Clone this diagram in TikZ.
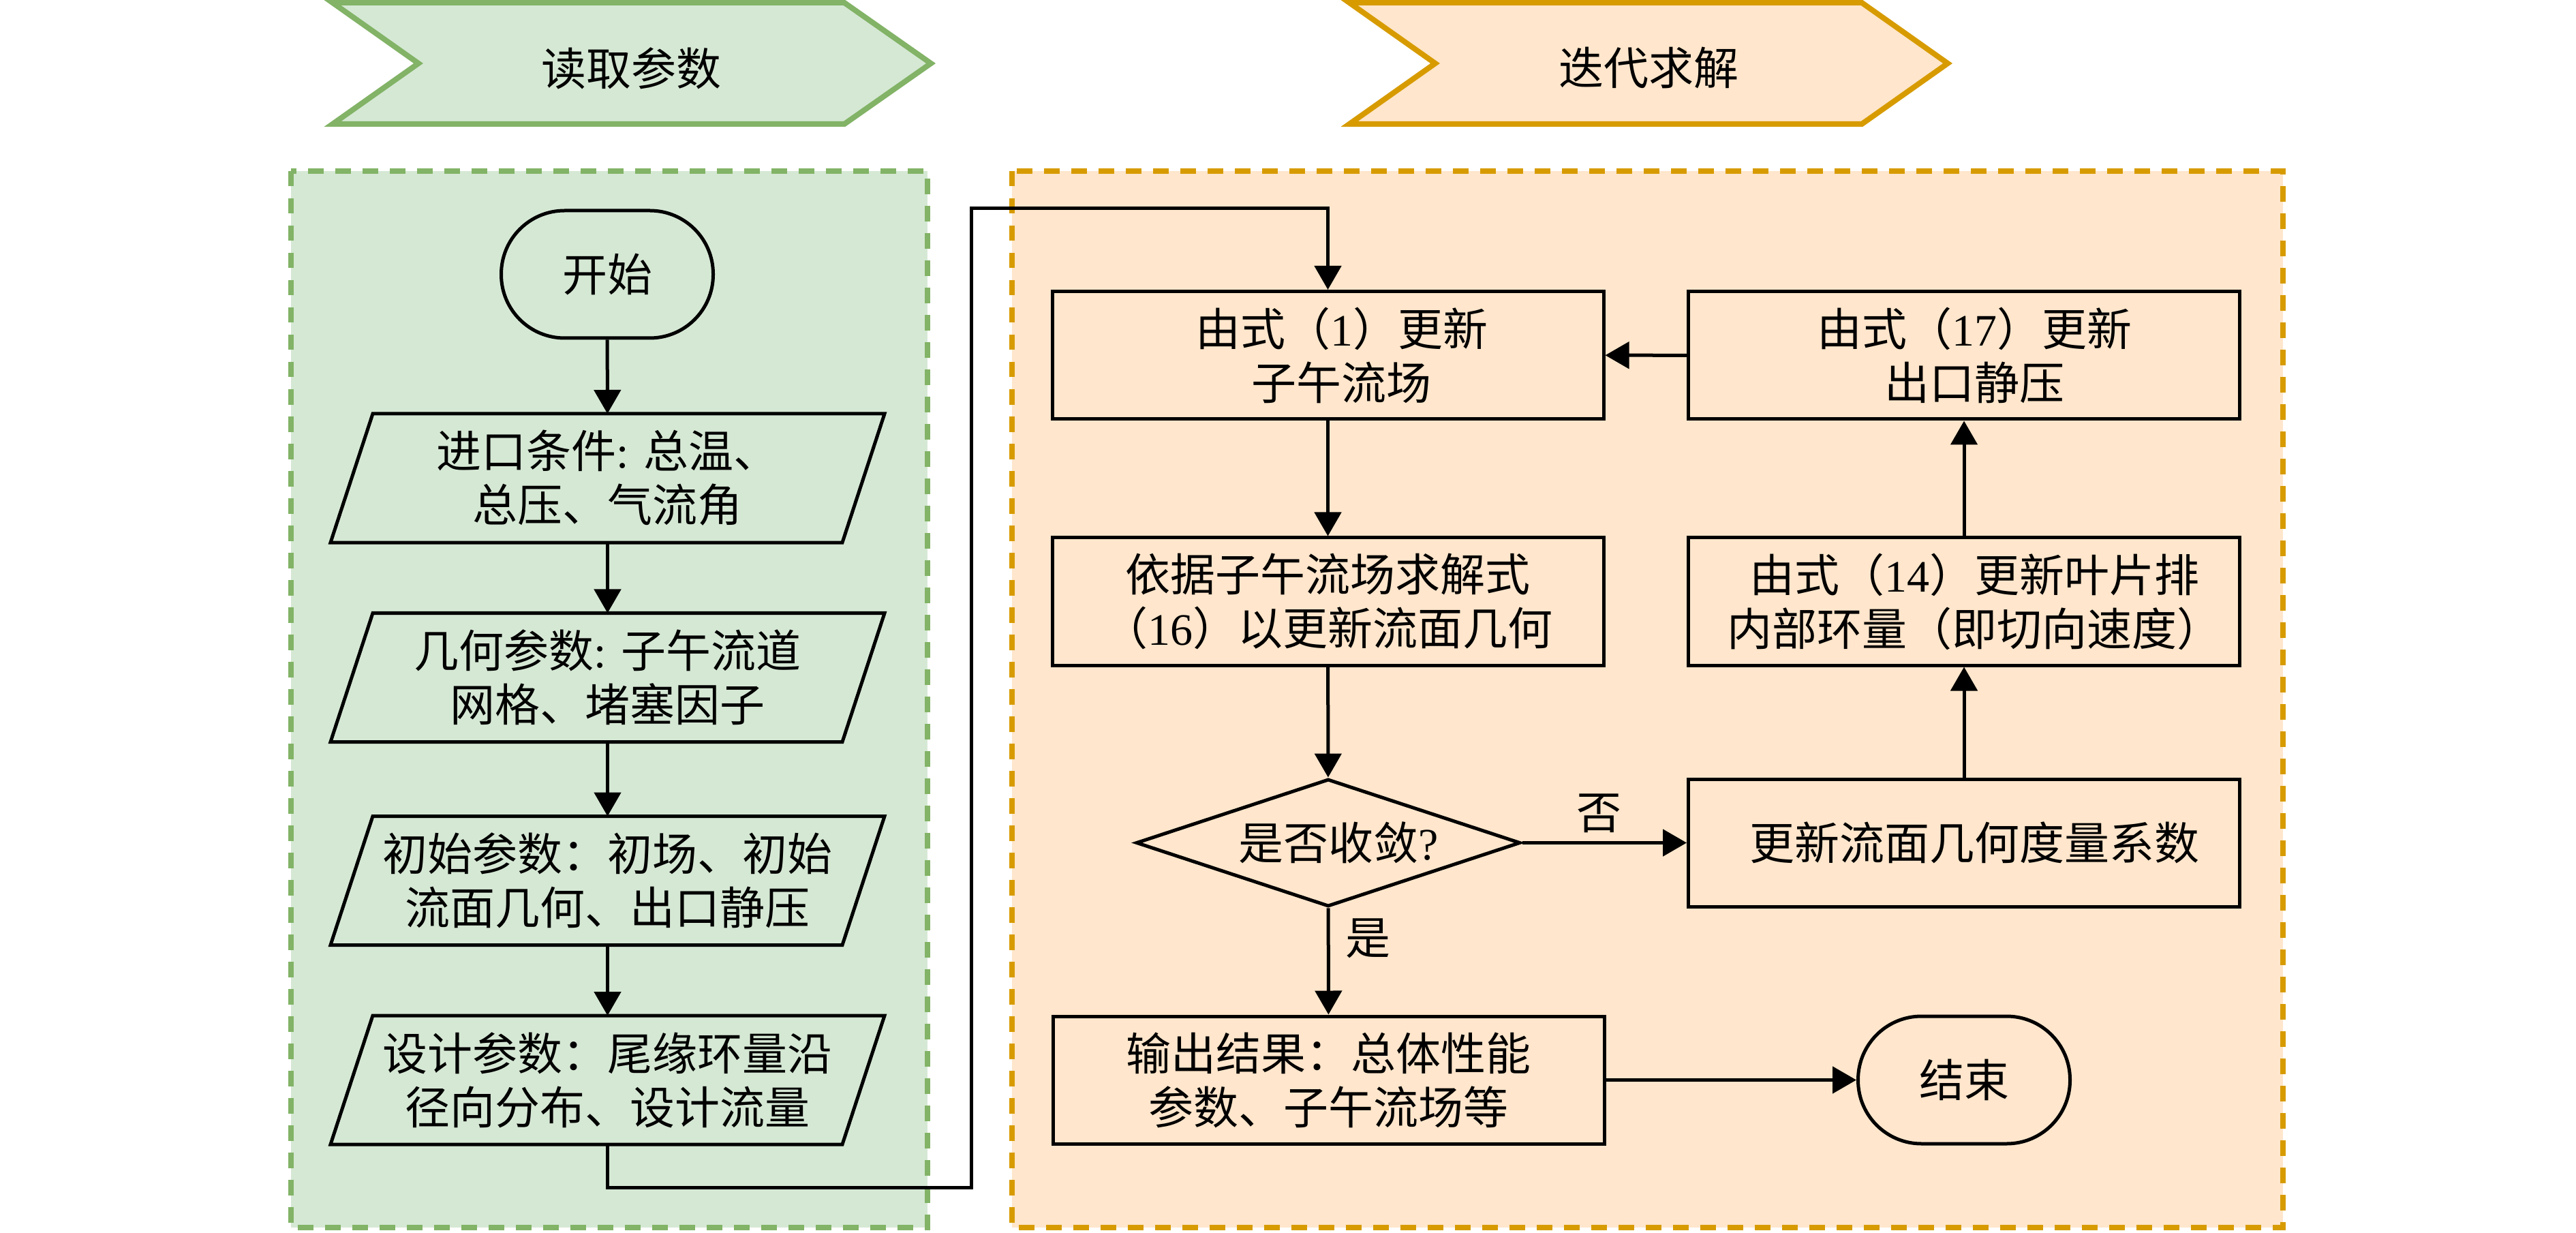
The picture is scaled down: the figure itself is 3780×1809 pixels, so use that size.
\documentclass[tikz,border=0pt]{standalone}
\usepackage{fontspec}
\setmainfont{Liberation Serif}
\newfontfamily\cjk{Noto Sans CJK SC}
\usetikzlibrary{arrows.meta,shapes.geometric}
\definecolor{gfill}{HTML}{D5E8D4}
\definecolor{gdraw}{HTML}{82B366}
\definecolor{ofill}{HTML}{FFE6CC}
\definecolor{odraw}{HTML}{D79B00}
\newcommand{\dg}[1]{{\rmfamily #1}}
\begin{document}
\begin{tikzpicture}[x=0.2pt,y=-0.2pt,
  every node/.style={font=\cjk\fontsize{13.2}{15.8}\selectfont, text=black},
  ln/.style={line width=1pt, draw=black},
  arr/.style={ln, -{Triangle[length=7pt,width=7.8pt]}},
  box/.style={draw=black, line width=1pt, minimum width=161.8pt, minimum height=37.4pt, inner sep=0pt, align=center},
  term/.style={draw=black, line width=1pt, rounded corners=18.6pt, minimum width=62.2pt, minimum height=37.4pt, inner sep=0pt},
  para/.style={minimum width=149.8pt, minimum height=37.4pt, inner sep=0pt, align=center},
  grp/.style={line width=1.5pt, dash pattern=on 4.5pt off 3.5pt},
  chev/.style={line width=1.6pt, line join=miter},
  lbl/.style={inner sep=0pt}
]
\useasboundingbox (0,0) rectangle (3780,1809);
\fill[white] (0,0) rectangle (3780,1809);

% chevrons
\draw[chev, fill=gfill, draw=gdraw] (488,4) -- (1239,4) -- (1366,93) -- (1239,182) -- (488,182) -- (614,93) -- cycle;
\node (h1) at (926,100) {读取参数};
\draw[chev, fill=ofill, draw=odraw] (1980,4) -- (2732,4) -- (2858,93) -- (2732,182) -- (1980,182) -- (2106,93) -- cycle;
\node (h2) at (2419,100) {迭代求解};

% group boxes
\draw[grp, fill=gfill, draw=gdraw] (427,251) rectangle (1361,1801);
\draw[grp, fill=ofill, draw=odraw] (1485,251) rectangle (3350,1801);

% left column
\node[term] (start) at (891,402.5) {开始};
\node[para] (p1) at (891.5,701.5) {进口条件\dg{: }总温、\\总压、气流角};
\node[para] (p2) at (891.5,994) {几何参数\dg{: }子午流道\\网格、堵塞因子};
\node[para] (p3) at (891.5,1292) {初始参数：初场、初始\\流面几何、出口静压};
\node[para] (p4) at (891.5,1584.5) {设计参数：尾缘环量沿\\径向分布、设计流量};
\foreach \p in {p1,p2,p3,p4}
  \draw[ln, line join=miter] ([xshift=-6.2pt]\p.south west) -- ([xshift=-6.2pt]\p.south east) -- ([xshift=6.2pt]\p.north east) -- ([xshift=6.2pt]\p.north west) -- cycle;

% right part
\node[box] (A) at (1948.5,521) {\hspace*{8pt}由式（\dg{1}）更新\\\hspace*{8pt}子午流场};
\node[box] (B) at (1948.5,882.5) {依据子午流场求解式\\（\dg{16}）以更新流面几何};
\node[draw=black, line width=1pt, diamond, aspect=3, minimum width=112.8pt, minimum height=37.4pt, inner sep=0pt] (Q) at (1949,1236.5) {\hspace*{6pt}是否收敛\dg{?}};
\node[box] (F) at (1949.5,1584.5) {输出结果：总体性能\\参数、子午流场等};
\node[box] (C) at (2882,521.5) {\hspace*{6pt}由式（\dg{17}）更新\\\hspace*{6pt}出口静压};
\node[box] (D) at (2882,882.5) {\hspace*{6pt}由式（\dg{14}）更新叶片排\\\hspace*{6pt}内部环量（即切向速度）};
\node[box] (E) at (2882,1236.5) {\hspace*{6pt}更新流面几何度量系数};
\node[term] (end) at (2882,1584.5) {结束};

% connectors
\draw[arr] (start) -- (p1);
\draw[arr] (p1) -- (p2);
\draw[arr] (p2) -- (p3);
\draw[arr] (p3) -- (p4);
\coordinate (k1) at (891.5,1742);
\coordinate (k2) at (1425,1742);
\coordinate (k3) at (1425,306);
\coordinate (k4) at (1948.5,306);
\draw[arr] (p4.south) -- (k1) -- (k2) -- (k3) -- (k4) -- (A.north);
\draw[arr] (A) -- (B);
\draw[arr] (B) -- (Q);
\draw[arr] (Q) -- (F);
\draw[arr] (Q) -- (E);
\draw[arr] (E) -- (D);
\draw[arr] (D) -- (C);
\draw[arr] (C) -- (A);
\draw[arr] (F) -- (end);

\node[lbl] (no) at (2346,1193) {否};
\node[lbl] (yes) at (2007,1377) {是};
\end{tikzpicture}
\end{document}
